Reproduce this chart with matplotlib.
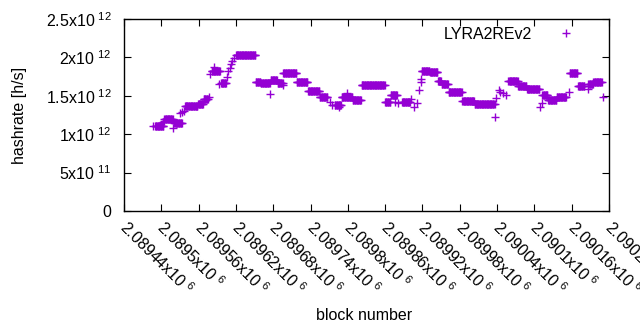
import numpy as np
import matplotlib
matplotlib.use("Agg")
from matplotlib import pyplot as plt
from matplotlib.ticker import FixedLocator
from matplotlib.transforms import ScaledTranslation

# runs of blocks with the same hashrate (first block, last block, rate in 1e12 h/s)
run_start = [2089490, 2089505, 2089521, 2089538, 2089559, 2089568, 2089581, 2089596,
             2089620, 2089652, 2089660, 2089676, 2089687, 2089696, 2089718, 2089736,
             2089755, 2089779, 2089790, 2089808, 2089822, 2089860, 2089869, 2089887,
             2089919, 2089932, 2089945, 2089951, 2089962, 2089984, 2089991, 2090004,
             2090058, 2090074, 2090088, 2090113, 2090122, 2090136, 2090157, 2090170,
             2090187, 2090195]
run_end = [2089503, 2089518, 2089533, 2089558, 2089567, 2089575, 2089594, 2089604,
           2089651, 2089659, 2089674, 2089686, 2089695, 2089717, 2089735, 2089754,
           2089767, 2089789, 2089807, 2089821, 2089859, 2089868, 2089879, 2089900,
           2089931, 2089944, 2089950, 2089961, 2089983, 2089990, 2090003, 2090036,
           2090073, 2090087, 2090108, 2090121, 2090135, 2090151, 2090169, 2090180,
           2090194, 2090208]
run_rate = [1.107, 1.198, 1.146, 1.363, 1.39, 1.454, 1.823, 1.67,
            2.031, 1.676, 1.663, 1.706, 1.67, 1.793, 1.676, 1.562,
            1.48, 1.38, 1.488, 1.445, 1.637, 1.415, 1.506, 1.415,
            1.827, 1.806, 1.697, 1.65, 1.553, 1.436, 1.428, 1.389,
            1.689, 1.634, 1.585, 1.506, 1.445, 1.484, 1.793, 1.624,
            1.654, 1.676]

# single blocks in between
pt_block = [2089486, 2089502, 2089504, 2089519, 2089530, 2089534, 2089537, 2089576,
            2089578, 2089584, 2089592, 2089605, 2089608, 2089610, 2089612, 2089614,
            2089617, 2089675, 2089696, 2089771, 2089774, 2089786, 2089798, 2089876,
            2089881, 2089902, 2089907, 2089911, 2089915, 2089917, 2089918, 2090037,
            2090038, 2090043, 2090045, 2090050, 2090055, 2090109, 2090112, 2090155,
            2090186, 2090211]
pt_rate = [1.11, 1.16, 1.17, 1.077, 1.27, 1.29, 1.30, 1.48,
           1.78, 1.88, 1.65, 1.74, 1.827, 1.866, 1.91, 1.953,
           1.996, 1.519, 1.64, 1.423, 1.38, 1.35, 1.53, 1.42,
           1.41, 1.454, 1.358, 1.41, 1.575, 1.68, 1.715, 1.228,
           1.47, 1.575, 1.553, 1.532, 1.51, 1.358, 1.402, 1.553,
           1.59, 1.48]

x_ticks = [2089440 + 60 * i for i in range(14)]
x_ticklabels = ["2.08944", "2.0895", "2.08956", "2.08962", "2.08968", "2.08974", "2.0898",
                "2.08986", "2.08992", "2.08998", "2.09004", "2.0901", "2.09016", "2.0902"]
y_ticks = [0, 0.5e12, 1e12, 1.5e12, 2e12, 2.5e12]
y_ticklabels = ["0", "5x10$^{\\ 11}$", "1x10$^{\\ 12}$", "1.5x10$^{\\ 12}$",
                "2x10$^{\\ 12}$", "2.5x10$^{\\ 12}$"]

plt.rcParams['font.family'] = ['Liberation Sans', 'DejaVu Sans']
plt.rcParams['mathtext.fontset'] = 'custom'
plt.rcParams['mathtext.rm'] = 'Liberation Sans'
plt.rcParams['mathtext.default'] = 'regular'
plt.rcParams['font.size'] = 11.5

# one point per block
blocks = []
rates = []
for s, e, r in zip(run_start, run_end, run_rate):
    b = np.arange(s, e + 1)
    blocks.append(b)
    rates.append(np.full(len(b), r))
blocks.append(np.array(pt_block))
rates.append(np.array(pt_rate))
blocks = np.concatenate(blocks)
rates = np.concatenate(rates) * 1e12

fig = plt.figure(figsize=(6.4, 3.3), dpi=100)
ax = fig.add_axes([124 / 640, 1 - 211 / 330, 485 / 640, 192 / 330])
ax.plot(blocks, rates, linestyle="none", marker="+", markersize=5.2,
        markeredgewidth=1.0, color="#9400d3", label="LYRA2REv2")

ax.set_xlim(2089440, 2090220)
ax.set_ylim(0, 2.5e12)
ax.xaxis.set_major_locator(FixedLocator(x_ticks))
ax.set_xticklabels([l + "x10$^{\\ 6}$" for l in x_ticklabels], rotation=-45,
                   ha="left", va="center_baseline", rotation_mode="anchor")
shift = ScaledTranslation(4 / 100, 0, fig.dpi_scale_trans)
for lab in ax.get_xticklabels():
    lab.set_transform(lab.get_transform() + shift)
ax.yaxis.set_major_locator(FixedLocator(y_ticks))
ax.set_yticklabels(y_ticklabels)
ax.tick_params(direction="in", length=5, width=0.8, top=True, right=True, colors="black")
ax.tick_params(axis="y", pad=9)
ax.tick_params(axis="x", pad=8.5)
for sp in ax.spines.values():
    sp.set_linewidth(1.0)

ax.set_xlabel("block number")
ax.xaxis.set_label_coords(0.495, -0.505)
ax.set_ylabel("hashrate [h/s]")
ax.yaxis.set_label_coords(-0.2, 0.5)

ax.legend(loc="upper right", bbox_to_anchor=(0.944, 0.96), frameon=False,
          markerfirst=False, numpoints=1, borderpad=0, borderaxespad=0,
          handletextpad=1.1, handlelength=2.0)

fig.savefig("out.png", dpi=100)
